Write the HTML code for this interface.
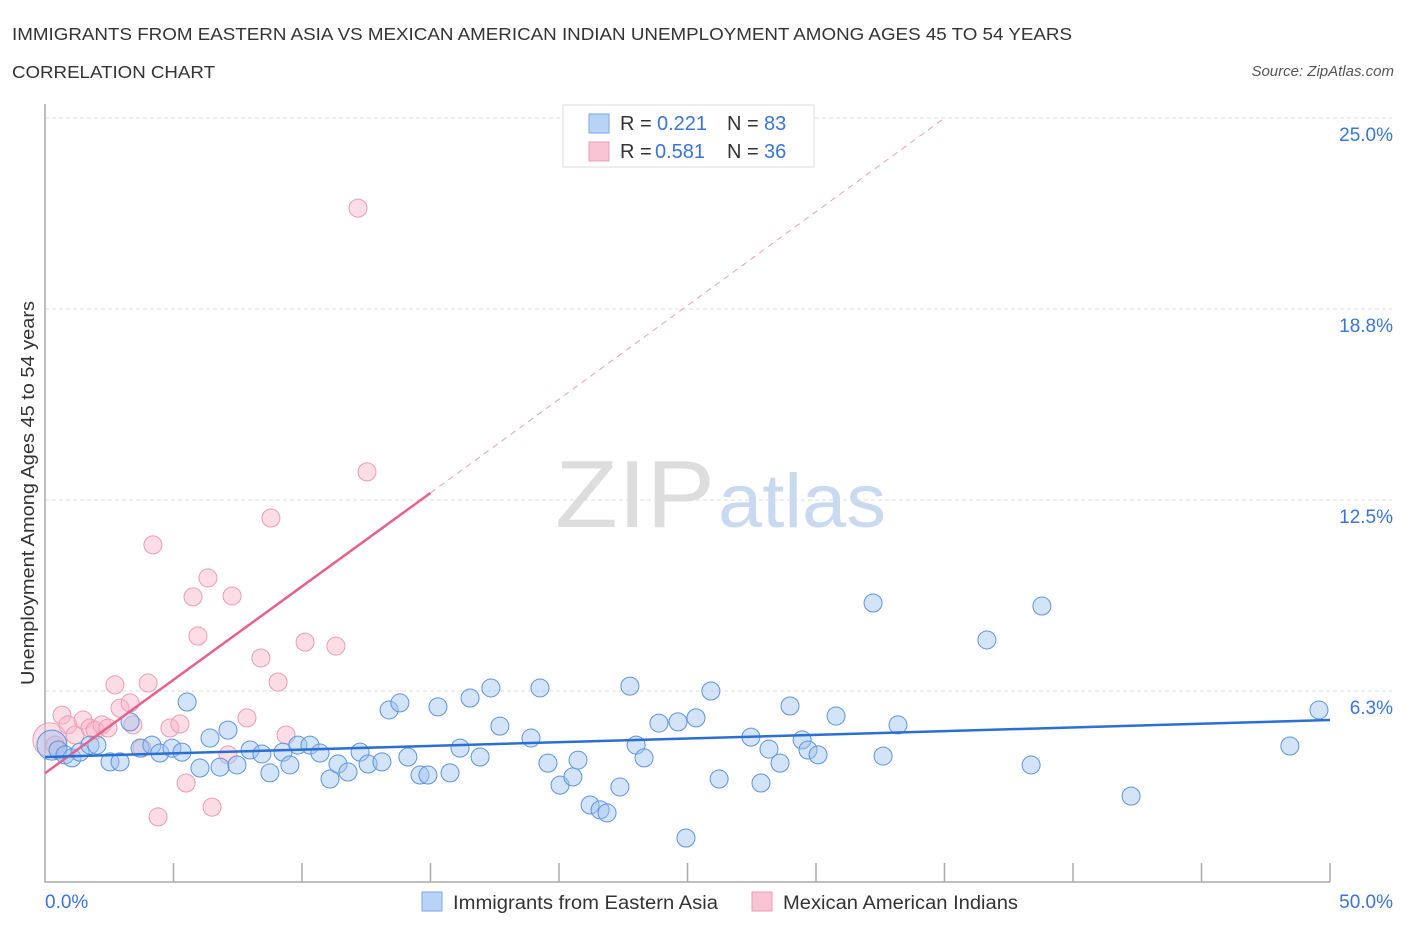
<!DOCTYPE html>
<html><head><meta charset="utf-8"><style>
body{margin:0;background:#fff;font-family:"Liberation Sans",sans-serif}
svg text{font-family:"Liberation Sans",sans-serif}
</style></head><body>
<svg width="1406" height="930" viewBox="0 0 1406 930">
<text x="12" y="40" font-size="17.5" fill="#333" textLength="1060" lengthAdjust="spacingAndGlyphs">IMMIGRANTS FROM EASTERN ASIA VS MEXICAN AMERICAN INDIAN UNEMPLOYMENT AMONG AGES 45 TO 54 YEARS</text>
<text x="12" y="78" font-size="17.5" fill="#333" textLength="203" lengthAdjust="spacingAndGlyphs">CORRELATION CHART</text>
<text x="1394" y="76" font-size="15" fill="#555" font-style="italic" text-anchor="end">Source: ZipAtlas.com</text>
<g>
<text x="555" y="527" font-size="96" fill="#ddd" font-family="Liberation Serif" textLength="160" lengthAdjust="spacingAndGlyphs">ZIP</text>
<text x="718" y="527" font-size="76" fill="#c9daf0" textLength="168" lengthAdjust="spacingAndGlyphs">atlas</text>
</g>
<g id="grid"></g>
<g id="axes"></g>
<g id="lines"></g>
<g id="pts"></g>
<text transform="translate(34,493) rotate(-90)" font-size="18" fill="#333" text-anchor="middle" textLength="384" lengthAdjust="spacingAndGlyphs">Unemployment Among Ages 45 to 54 years</text>
<g>
<rect x="563" y="105" width="251" height="62" fill="#fff" stroke="#ddd"/>
<rect x="589" y="114" width="20" height="19" fill="#b8d3f5" stroke="#7aa7e6"/>
<rect x="589" y="142" width="20" height="19" fill="#f8c4d3" stroke="#ec9bb5"/>
<text x="620" y="130" font-size="20" fill="#333">R =</text><text x="657" y="130" font-size="20" fill="#3a74d6">0.221</text>
<text x="727" y="130" font-size="20" fill="#333">N =</text><text x="764" y="130" font-size="20" fill="#3a74d6">83</text>
<text x="620" y="158" font-size="20" fill="#333">R =</text><text x="655" y="158" font-size="20" fill="#3a74d6">0.581</text>
<text x="727" y="158" font-size="20" fill="#333">N =</text><text x="764" y="158" font-size="20" fill="#3a74d6">36</text>
</g>
<g>
<rect x="422" y="892" width="20" height="19" fill="#b8d3f5" stroke="#7aa7e6"/>
<text x="453" y="909" font-size="19" fill="#333" textLength="265" lengthAdjust="spacingAndGlyphs">Immigrants from Eastern Asia</text>
<rect x="752" y="892" width="20" height="19" fill="#f8c4d3" stroke="#ec9bb5"/>
<text x="783" y="909" font-size="19" fill="#333" textLength="235" lengthAdjust="spacingAndGlyphs">Mexican American Indians</text>
</g>
</svg>
<script>
const yTicks=[25.0,18.8,12.5,6.3];
const yGrid=[25,18.75,12.5,6.25];
const xTickLabels=["0.0%","50.0%"];
const blueX=[0.27,0.51,0.78,1.05,1.36,1.75,2.02,2.53,2.92,3.31,3.70,4.16,4.47,4.94,5.33,5.53,6.03,6.42,6.81,7.12,7.47,7.98,8.44,8.75,9.26,9.53,9.84,10.31,10.70,11.09,11.40,11.79,12.26,12.57,13.11,13.39,13.81,14.12,14.59,14.90,15.29,15.76,16.15,16.54,16.93,17.35,17.70,18.91,19.26,19.57,20.04,20.54,20.74,21.21,21.60,21.87,22.37,22.76,23.00,23.31,23.89,24.63,24.94,25.33,25.91,26.23,27.47,27.86,28.17,28.60,28.99,29.46,29.69,30.08,30.78,32.22,32.61,33.19,36.65,38.37,38.79,42.26,48.44,49.57];
const blueY=[4.48,4.32,4.16,4.06,4.25,4.48,4.48,3.93,3.93,5.24,4.38,4.48,4.22,4.38,4.25,5.89,3.73,4.71,3.76,4.97,3.83,4.32,4.19,3.57,4.25,3.83,4.48,4.48,4.22,3.37,3.86,3.60,4.25,3.86,3.93,5.63,5.86,4.09,3.50,3.50,5.73,3.57,4.38,6.02,4.09,6.35,5.10,4.71,6.35,3.89,3.17,3.44,3.99,2.52,2.36,2.26,3.11,6.41,4.48,4.06,5.20,5.24,1.44,5.37,6.25,3.37,4.74,3.24,4.35,3.89,5.76,4.65,4.32,4.16,5.43,9.13,4.12,5.14,7.92,3.83,9.03,2.81,4.45,5.63];
const pinkX=[0.19,0.39,0.66,0.89,1.17,1.48,1.75,1.95,2.22,2.45,2.72,2.92,3.31,3.42,3.77,4.01,4.20,4.40,4.86,5.25,5.49,5.76,5.95,6.34,6.50,7.12,7.28,7.86,8.40,8.79,9.07,9.38,10.12,11.32,12.18,12.53];
const pinkY=[4.65,4.48,5.46,5.14,4.81,5.30,5.04,4.97,5.14,5.04,6.45,5.69,5.86,5.14,4.38,6.51,11.03,2.13,5.04,5.17,3.24,9.33,8.05,9.95,2.45,4.16,9.36,5.37,7.33,11.91,6.54,4.81,7.85,7.72,22.05,13.42];
const blueTrend=[[0,4.09],[50,5.30]];
const pinkTrend=[[0,3.56],[15,12.73]];
const pinkDash=[[15,12.73],[35,25.0]];
const NS="http://www.w3.org/2000/svg";
const X=v=>45+v*25.7, Y=v=>882-v*30.56;
function mk(t,a,p){const e=document.createElementNS(NS,t);for(const k in a)e.setAttribute(k,a[k]);document.getElementById(p).appendChild(e);return e;}
yGrid.forEach((g,i)=>{
 const l=mk('line',{x1:45,x2:1392,y1:Y(g),y2:Y(g),stroke:'#ddd','stroke-dasharray':'4,3'},'grid');
 
 
 const t=mk('text',{x:1393,y:Y(g)+23,'font-size':19,fill:'#3a74d6','text-anchor':'end'},'grid');t.textContent=yTicks[i].toFixed(1)+'%';
 
 
});
const ax=mk('path',{d:'M45,104V882H1330',fill:'none',stroke:'#aaa','stroke-width':1.5},'axes');


for(let i=1;i<=10;i++){const t=mk('line',{x1:X(i*5),x2:X(i*5),y1:863,y2:882,stroke:'#aaa','stroke-width':1.5},'axes');
 
 }
[[0,'start',45],[1,'end',1393]].forEach(([i,a,x])=>{const t=mk('text',{x:x,y:908,'font-size':19,fill:'#3a74d6','text-anchor':a},'axes');t.textContent=xTickLabels[i];
 
 });
function dot(x,y,f,s,r,n){const c=mk('circle',{cx:X(x),cy:Y(y),r:r,fill:f,stroke:s,'stroke-width':1},'pts');
 
 }
pinkX.forEach((x,i)=>dot(x,pinkY[i],'rgba(248,180,200,0.45)','#ec9bb5',i==0?17:9,'pink-point'));
blueX.forEach((x,i)=>dot(x,blueY[i],'rgba(160,196,240,0.45)','#5b93e0',i==0?15:9,'blue-point'));
function ln(p,s,w,d,n){const l=mk('line',{x1:X(p[0][0]),y1:Y(p[0][1]),x2:X(p[1][0]),y2:Y(p[1][1]),stroke:s,'stroke-width':w},'lines');if(d)l.setAttribute('stroke-dasharray',d);
 
 }
ln(pinkDash,'#e8a0b8',1,'6,5','pink-trend-extension');
ln(pinkTrend,'#e8608c',2.5,null,'pink-trend-line');
ln(blueTrend,'#2a6fd6',2.5,null,'blue-trend-line');
const svg=document.querySelector('svg');svg.appendChild(document.getElementById('lines'));
</script>
</body></html>
